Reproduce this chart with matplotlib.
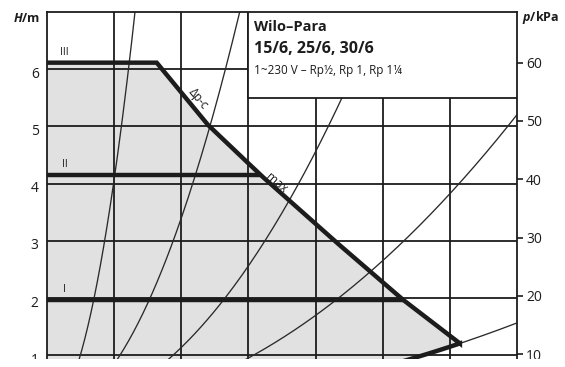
import numpy as np
import matplotlib
matplotlib.use("Agg")
from matplotlib import pyplot as plt
from matplotlib.patches import Rectangle, Polygon
from matplotlib.transforms import ScaledTranslation

plt.rcParams['font.family'] = ['Open Sans', 'DejaVu Sans']
plt.rcParams['mathtext.fontset'] = 'custom'
plt.rcParams['mathtext.it'] = 'Open Sans:italic:bold'

# values (Q in m3/h, H in m)
h_ticks = [1, 2, 3, 4, 5, 6]
p_ticks = [10, 20, 30, 40, 50, 60]
q_grid = [0.5, 1.0, 1.5, 2.0, 2.5, 3.0]

speed_names = ["I", "II", "III"]
speed_head = [1.975, 4.16, 6.115]

# dp-c / max characteristic
q_max = [0.817, 1.199, 1.499, 1.611, 2.169, 2.653, 3.075]
h_max = [6.115, 5.027, 4.358, 4.11, 2.948, 1.97, 1.21]

# system curves H = k * Q^2
sys_k = [16.3, 3.4, 1.14, 0.425, 0.128]

title1 = "Wilo–Para"
title2 = "15/6, 25/6, 30/6"
title3 = "1~230 V – Rp½, Rp 1, Rp 1¼"

W, HP = 565, 367
fig = plt.figure(figsize=(W / 100, HP / 100), dpi=100)
ax = fig.add_axes([47 / W, (HP - 412.7) / HP, 470 / W, 400.7 / HP])
ax.set_xlim(0, 3.5)
ax.set_ylim(0, 7)

ink = '#1c1c1c'

# grey operating area
q_low = np.linspace(q_max[-1], 0, 80)
verts = [(0, 0), (0, speed_head[2])] + list(zip(q_max, h_max)) + list(zip(q_low, sys_k[-1] * q_low ** 2))
ax.add_patch(Polygon(verts, closed=True, facecolor='#e1e1e1', edgecolor='none', zorder=0.5))

# grid
for q in q_grid:
    ax.axvline(q, color=ink, lw=1.3, zorder=1)
for h in h_ticks:
    ax.axhline(h, color=ink, lw=1.3, zorder=1)

# system curves
qq = np.linspace(0, 3.5, 300)
for k in sys_k:
    ax.plot(qq, k * qq ** 2, color='#2a2a2a', lw=0.95, zorder=2)

# max curve with speed III and bottom boundary
q_out = [0] + q_max + list(q_low)
h_out = [speed_head[2]] + h_max + list(sys_k[-1] * q_low ** 2)
ax.plot(q_out, h_out, color=ink, lw=3.2, zorder=3, solid_joinstyle='miter', solid_capstyle='butt')

for name, h in zip(speed_names, speed_head):
    q_end = np.interp(h, h_max[::-1], q_max[::-1])
    if name != "III":
        ax.plot([0, q_end], [h, h], color=ink, lw=3.2, zorder=3, solid_capstyle='butt')
    ax.text(0.13, h + 0.17, name, fontsize=7.5, color=ink, ha='center', va='center', zorder=5)

ax.text(1.127, 5.49, "Δp-c", fontsize=8.5, rotation=-50, ha='center', va='center', color=ink, zorder=5)
ax.text(1.71, 4.01, "max", fontsize=8.5, rotation=-40, ha='center', va='center', color=ink, zorder=5)

# title box
ax.add_patch(Rectangle((1.5, 5.493), 2.0, 1.507, facecolor='white', edgecolor=ink, lw=1.3, zorder=4))
ax.text(1.541, 6.744, title1, fontsize=10.5, fontweight='bold', ha='left', va='center', color=ink, zorder=5)
ax.text(1.541, 6.355, title2, fontsize=11.5, fontweight='bold', ha='left', va='center', color=ink, zorder=5)
ax.text(1.541, 5.97, title3, fontsize=8.5, ha='left', va='center', color=ink, zorder=5)

for s in ax.spines.values():
    s.set_color(ink)
    s.set_linewidth(1.3)
ax.set_xticks([])
ax.set_yticks(h_ticks)
ax.tick_params(axis='y', length=0, pad=6, labelsize=10, labelcolor=ink)
shift = ScaledTranslation(0, -0.03, fig.dpi_scale_trans)
for lab in ax.get_yticklabels():
    lab.set_transform(lab.get_transform() + shift)

ax2 = ax.twinx()
ax2.set_ylim(0, 7 * 9.81)
ax2.set_yticks(p_ticks)
ax2.tick_params(axis='y', length=4.5, width=1.2, color=ink, pad=2, labelsize=10, labelcolor=ink)
for s in ax2.spines.values():
    s.set_visible(False)

fig.text(13 / W, 1 - 18 / HP, "$H$/m", fontsize=9, fontweight='bold', ha='left', va='center', color=ink)
fig.text(522 / W, 1 - 18 / HP, "$p$/kPa", fontsize=9, fontweight='bold', ha='left', va='center', color=ink)

# the reference is cut just below the H = 1 line
fig.add_artist(Rectangle((0, 0), 1, 8.5 / HP, transform=fig.transFigure,
                         facecolor='white', edgecolor='none', zorder=10))

fig.savefig('out.png', dpi=100)
